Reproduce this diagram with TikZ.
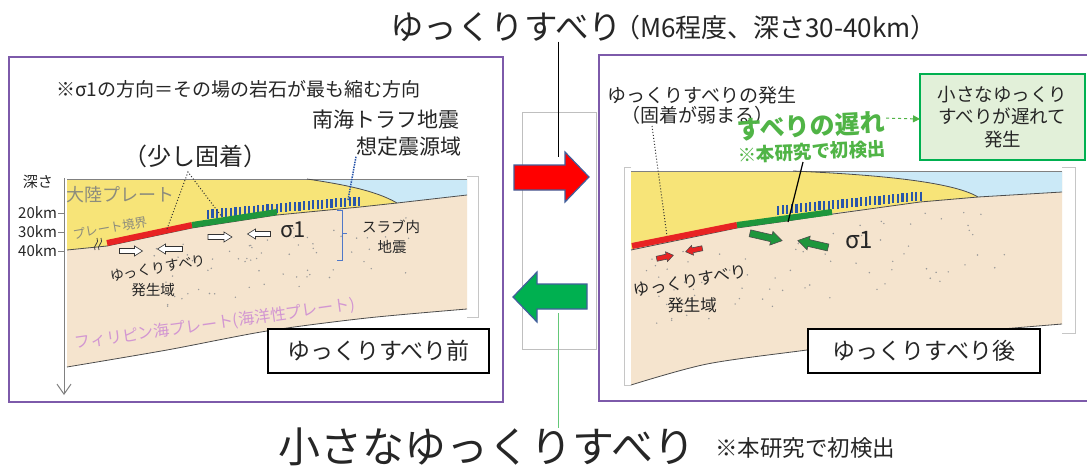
\documentclass[tikz,border=0pt]{standalone}
\usepackage{fontspec}
\setmainfont{Noto Sans CJK JP}
\usetikzlibrary{arrows.meta}
\definecolor{purp}{RGB}{125,90,170}
\definecolor{yel}{RGB}{247,228,120}
\definecolor{beige}{RGB}{245,228,206}
\definecolor{sea}{RGB}{203,233,247}
\definecolor{pred}{RGB}{232,35,35}
\definecolor{pgreen}{RGB}{30,150,60}
\definecolor{hblue}{RGB}{40,85,170}
\definecolor{bracecol}{RGB}{80,120,200}
\definecolor{txtgreen}{RGB}{80,180,70}
\definecolor{boxgreen}{RGB}{0,176,80}
\definecolor{boxfill}{RGB}{226,240,217}
\definecolor{arrowedge}{RGB}{65,95,155}
\definecolor{pinkc}{RGB}{210,150,210}
\definecolor{olivec}{RGB}{140,140,125}
\definecolor{lgreen}{RGB}{100,200,120}
\newcommand\fs[2]{\fontsize{#1}{#2}\selectfont}
% x y angle length shafthalf headhalf headlen style
\newcommand\blkarrow[8]{%
\begin{scope}[shift={(#1,#2)},rotate=#3]
\filldraw[#8] (-#4/2,-#5) -- (#4/2-#7,-#5) -- (#4/2-#7,-#6) -- (#4/2,0) -- (#4/2-#7,#6) -- (#4/2-#7,#5) -- (-#4/2,#5) -- cycle;
\end{scope}}
% x0 y0 x1 y1 n : vertical hatch bars along a line
\newcommand\hatchbars[5]{%
\foreach \k in {0,...,#5}{%
  \pgfmathsetmacro{\hx}{#1+(#3-#1)*\k/#5}%
  \pgfmathsetmacro{\hy}{#2+(#4-#2)*\k/#5}%
  \draw[hatchbar] (\hx,\hy-4.5) -- (\hx,\hy+4.5);
}}
\begin{document}
\begin{tikzpicture}[x=1pt,y=-1pt,
  every node/.style={inner sep=0pt,outer sep=0pt,text=black!85},
  plateline/.style={black!70,line width=0.8pt},
  hatchbar/.style={hblue,line width=2.2pt},
  slipred/.style={pred,line width=6pt},
  slipgreen/.style={pgreen,line width=6pt},
  panel/.style={draw=purp,line width=2pt},
  framegray/.style={gray!45,line width=0.6pt},
  labelbox/.style={draw=black,line width=1.8pt,fill=white,minimum height=44pt},
  leader/.style={black!80,dotted,line width=1pt},
  whitearr/.style={fill=white,draw=black!80,line width=0.6pt},
  greenarr/.style={fill=pgreen,draw=black!70,line width=0.6pt},
  redarr/.style={fill=pred,draw=black!70,line width=0.6pt},
  dotc/.style={fill=gray!80}
]
\useasboundingbox (0,0) rectangle (1087,466);
\clip (0,0) rectangle (1087,466);
\fill[white] (0,0) rectangle (1087,466);

%================ LEFT CROSS-SECTION =================
\fill[beige] (67,179) -- (467,179) -- (467,309) -- plot[smooth] coordinates {(467,309)(367,318)(267,331)(167,350)(67,367)} -- cycle;
\fill[yel] (67,179) -- (307,179) .. controls (340,184) and (375,190) .. (397,203) -- (360,207) -- (277,215) -- (192,228) -- (107,246) -- (67,250) -- cycle;
\fill[sea] (307,179) -- (467,179) -- (467,195) -- (397,203) .. controls (375,190) and (340,184) .. (307,179) -- cycle;
\draw[gray,line width=1pt] (67,179) -- (467,179);
\draw[plateline] (67,250) -- (107,246) -- (192,228) -- (277,215) -- (360,207) -- (397,203) -- (467,195);
\draw[plateline] (307,179) .. controls (340,184) and (375,190) .. (397,203);
\draw[plateline] plot[smooth] coordinates {(467,309)(367,318)(267,331)(167,350)(67,367)};
\draw[framegray] (467,176) -- (478,176) -- (478,317) -- (467,317);

\pgfmathsetseed{42}
\foreach \i in {1,...,70}{
  \pgfmathsetmacro{\px}{150+rnd*260}
  \pgfmathsetmacro{\py}{250-(\px-67)*0.14+9+rnd*62}
  \fill[dotc] (\px,\py) circle (0.8);
}

\hatchbars{208}{214}{359}{201}{33}
\draw[slipred] (107,243) -- (192,225);
\draw[slipgreen] (192,225) -- (277,212);

% break mark
\draw[black!75,line width=0.8pt] (95,250) .. controls (92,246) and (100,243) .. (97,238);
\draw[black!75,line width=0.8pt] (99,250) .. controls (96,246) and (104,243) .. (101,238);

% stress arrows
\blkarrow{131}{251}{0}{23}{2.5}{5}{8}{whitearr}
\blkarrow{170}{249}{180}{25}{2.5}{5}{8}{whitearr}
\blkarrow{220}{237}{0}{24}{2.5}{5}{8}{whitearr}
\blkarrow{259}{234}{180}{23}{2.5}{5}{8}{whitearr}

% brace
\draw[bracecol,line width=1pt] (337,210) -- (342,210) -- (342,260) -- (337,260);
\draw[bracecol,line width=1pt] (342,233) -- (347,233);

% depth axis
\draw[gray,line width=1pt,-{Straight Barb[length=10pt,width=14pt]}] (64,178) -- (64,395);
\foreach \y in {213,232,251} \draw[gray,line width=1pt] (58,\y) -- (64,\y);
\node[anchor=east,font=\fs{15}{18}] (d20) at (57,213) {20km};
\node[anchor=east,font=\fs{15}{18}] (d30) at (57,232) {30km};
\node[anchor=east,font=\fs{15}{18}] (d40) at (57,251) {40km};
\node[font=\fs{15}{18}] (depth) at (38,182) {深さ};

% left texts
\node[anchor=west,font=\fs{19}{22}] (note) at (56,89) {※σ1の方向＝その場の岩石が最も縮む方向};
\node[font=\fs{21}{25}] (nk1) at (386,120) {南海トラフ地震};
\node[anchor=east,font=\fs{21}{25}] (nk2) at (461,147) {想定震源域};
\coordinate (hz) at (348,200);
\draw[hblue,densely dotted,line width=1.5pt] (nk2.south west) -- (hz);
\node[font=\fs{24}{28}] (kochaku) at (195,156) {（少し固着）};
\coordinate (kapex) at (188,172);
\coordinate (kred) at (167,229);
\coordinate (kgreen) at (222,217);
\draw[leader] (kred) -- (kapex) -- (kgreen);
\node[font=\fs{18}{20},text=olivec] (cont) at (120,195) {大陸プレート};
\node[font=\fs{12.5}{15},text=olivec,rotate=10] (pb) at (110,228) {プレート境界};
\node[anchor=west,font=\fs{22}{26}] (sig1) at (280,230) {σ1};
\node[font=\fs{14.5}{17}] (slab1) at (391,227) {スラブ内};
\node[font=\fs{14.5}{17}] (slab2) at (392,247) {地震};
\node[font=\fs{14}{17},rotate=10] (sse1) at (158,268) {ゆっくりすべり};
\node[font=\fs{14.5}{17}] (sse2) at (153,290) {発生域};
\node[font=\fs{16}{19},text=pinkc,rotate=8] (phil) at (215,324) {フィリピン海プレート(海洋性プレート)};
\node[labelbox,minimum width=221pt,font=\fs{23}{27}] (before) at (378.5,351) {ゆっくりすべり前};

%================ RIGHT CROSS-SECTION =================
\fill[beige] (631,171) -- (1062,171) -- (1062,324) -- plot[smooth] coordinates {(1062,324)(900,338)(807,350)(707,364)(631,385)} -- cycle;
\fill[yel] (631,171) -- (793,171) .. controls (860,174) and (950,180) .. (978,197) -- (920,202) -- (833,213) -- (787,219) -- (737,226) -- (631,249) -- cycle;
\fill[sea] (793,171) -- (1062,171) -- (1062,192) -- (978,197) .. controls (950,180) and (860,174) .. (793,171) -- cycle;
\draw[gray,line width=1pt] (631,171) -- (1062,171);
\draw[plateline] (631,250) -- (737,228) -- (787,221) -- (833,214) -- (920,202) -- (978,197) -- (1062,192);
\draw[plateline] (793,171) .. controls (860,174) and (950,180) .. (978,197);
\draw[plateline] plot[smooth] coordinates {(1062,324)(900,338)(807,350)(707,364)(631,385)};
\draw[framegray] (1062,167) -- (1075,167) -- (1075,333) -- (1062,333);
\draw[framegray] (631,167) -- (624,167) -- (624,385) -- (631,385);

\pgfmathsetseed{7}
\foreach \i in {1,...,80}{
  \pgfmathsetmacro{\px}{645+rnd*365}
  \pgfmathsetmacro{\py}{249-(\px-631)*0.17+10+rnd*75}
  \fill[dotc] (\px,\py) circle (0.8);
}

\hatchbars{778}{210}{921}{196}{31}
\draw[slipred] (632,246) -- (737,225);
\draw[slipgreen] (737,225) -- (832,212);

\blkarrow{766}{237}{-13}{33}{3.5}{7}{11}{greenarr}
\blkarrow{813}{244}{167}{31}{3.5}{7}{11}{greenarr}
\blkarrow{665}{257}{12}{17}{2.5}{5}{7}{redarr}
\blkarrow{694}{250}{192}{17}{2.5}{5}{7}{redarr}

% right texts
\node[font=\fs{19}{22}] (occ) at (702,95) {ゆっくりすべりの発生};
\node[font=\fs{19}{22}] (weak) at (697,115) {（固着が弱まる）};
\coordinate (wred) at (667,236);
\draw[leader] (652,126) -- (wred);
\node[font=\fs{25}{28}\bfseries,text=txtgreen,rotate=3] (lag) at (811,126) {すべりの遅れ};
\node[font=\fs{18.5}{22}\bfseries,text=txtgreen,rotate=3] (first) at (812,152) {※本研究で初検出};
\node[draw=boxgreen,line width=1.5pt,fill=boxfill,minimum width=165pt,minimum height=86pt,align=center,font=\fs{18.5}{22.5}] (gbox) at (1002.5,117) {小さなゆっくり\\すべりが遅れて\\発生};
\draw[txtgreen,dashed,line width=1pt,-{Triangle[length=7pt,width=7pt]}] (lag.east) ++(1,-4) -- (gbox.west |- 0,119);
\coordinate (gpt) at (788,222);
\draw[black,line width=1.2pt] (803,162) -- (gpt);
\node[anchor=west,font=\fs{24}{28}] (sig2) at (845,240) {σ1};
\node[font=\fs{16.5}{19},rotate=10] (sse3) at (690,281) {ゆっくりすべり};
\node[font=\fs{16.5}{19}] (sse4) at (692,305) {発生域};
\node[labelbox,minimum width=232pt,font=\fs{23}{27}] (after) at (924,351) {ゆっくりすべり後};

%================ PANELS =================
\draw[panel] (9,57) rectangle (503,402);
\draw[panel] (599,55) rectangle (1100,401);

%================ MIDDLE =================
\draw[gray!50,line width=0.6pt] (522,112) rectangle (596,349);
\filldraw[fill=red,draw=arrowedge,line width=1.2pt] (514,165) -- (565,165) -- (565,152) -- (589,177) -- (565,202) -- (565,190) -- (514,190) -- cycle;
\filldraw[fill=boxgreen,draw=arrowedge,line width=1.2pt] (587,284) -- (537,284) -- (537,272) -- (513,297) -- (537,322) -- (537,309) -- (587,309) -- cycle;

% titles
\node[anchor=west,font=\fs{33.5}{38}] (title) at (390,27) {ゆっくりすべり};
\node[anchor=west,font=\fs{26}{30}] (titlep) at (614,28) {（M6程度、深さ30-40km）};
\coordinate (redtop) at (558,157);
\draw[black,line width=0.8pt] (title.south -| redtop) -- (redtop);
\node[anchor=west,font=\fs{42}{48}] (small) at (278,447) {小さなゆっくりすべり};
\node[anchor=west,font=\fs{22.5}{26}] (smalln) at (715,448) {※本研究で初検出};
\coordinate (greenbot) at (558,313);
\draw[lgreen,line width=0.8pt] (greenbot) -- (greenbot |- small.north);
\end{tikzpicture}
\end{document}
